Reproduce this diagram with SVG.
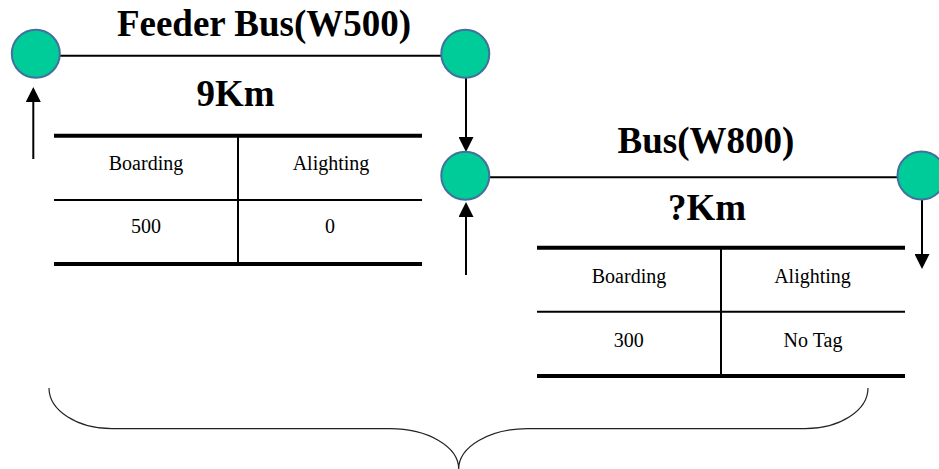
<svg xmlns="http://www.w3.org/2000/svg" width="939" height="469" viewBox="0 0 939 469">
  <style>
    .stop { fill: #00CC99; stroke: #41719C; stroke-width: 2; }
    .route { stroke: #000; stroke-width: 2; fill: none; }
    .arrow { stroke: #000; stroke-width: 2; fill: none; marker-end: url(#head); }
    .title { font-family: "Liberation Serif", "Times New Roman", serif; font-weight: bold; font-size: 37px; fill: #000; text-anchor: middle; }
    .cell { font-family: "Liberation Serif", "Times New Roman", serif; font-size: 20px; fill: #000; text-anchor: middle; }
    .rule-thick { stroke: #000; stroke-width: 4; }
    .rule-thin { stroke: #000; stroke-width: 2; }
    .brace { stroke: #222; stroke-width: 1.2; fill: none; }
  </style>
  <defs>
    <marker id="head" viewBox="0 0 15 15" markerWidth="15" markerHeight="15" markerUnits="userSpaceOnUse" refX="7" refY="7.5" orient="auto">
      <path d="M0,0 L15,7.5 L0,15 Z" fill="#000"/>
    </marker>
  </defs>

  <rect width="939" height="469" fill="#fff"/>

  <!-- route segments and transfer arrows -->
  <g id="connectors">
    <line class="route" x1="60" y1="55.7" x2="441" y2="55.7"/>
    <line class="route" x1="490" y1="177.3" x2="898" y2="177.3"/>
    <line class="arrow" x1="33.3" y1="159" x2="33.3" y2="95"/>
    <line class="arrow" x1="466" y1="78" x2="466" y2="144"/>
    <line class="arrow" x1="466" y1="275" x2="466" y2="210"/>
    <line class="arrow" x1="922" y1="197" x2="922" y2="261"/>
  </g>

  <!-- stops -->
  <g id="stop-feeder-start"><circle class="stop" cx="35.8" cy="53.8" r="24"/></g>
  <g id="stop-feeder-end"><circle class="stop" cx="465.3" cy="53.8" r="24"/></g>
  <g id="stop-bus-start"><circle class="stop" cx="465.3" cy="175.8" r="24"/></g>
  <g id="stop-bus-end"><circle class="stop" cx="921.5" cy="175.5" r="24"/></g>

  <!-- route labels -->
  <g id="label-feeder">
    <text class="title" x="264" y="36">Feeder Bus(W500)</text>
    <text class="title" x="235.5" y="106">9Km</text>
  </g>
  <g id="label-bus">
    <text class="title" x="706" y="153">Bus(W800)</text>
    <text class="title" x="707" y="220">?Km</text>
  </g>

  <!-- feeder bus passenger table -->
  <g id="table-feeder">
    <line class="rule-thick" x1="54" y1="135.7" x2="422" y2="135.7"/>
    <line class="rule-thin" x1="54" y1="200" x2="422" y2="200"/>
    <line class="rule-thick" x1="54" y1="264" x2="422" y2="264"/>
    <line class="rule-thin" x1="238" y1="135.7" x2="238" y2="264"/>
    <text class="cell" x="146" y="170">Boarding</text>
    <text class="cell" x="331" y="170">Alighting</text>
    <text class="cell" x="146" y="233">500</text>
    <text class="cell" x="330" y="233">0</text>
  </g>

  <!-- bus passenger table -->
  <g id="table-bus">
    <line class="rule-thick" x1="537" y1="247.7" x2="905" y2="247.7"/>
    <line class="rule-thin" x1="537" y1="311.7" x2="905" y2="311.7"/>
    <line class="rule-thick" x1="537" y1="376" x2="905" y2="376"/>
    <line class="rule-thin" x1="721" y1="247.7" x2="721" y2="376"/>
    <text class="cell" x="629" y="282.7">Boarding</text>
    <text class="cell" x="812.5" y="282.7">Alighting</text>
    <text class="cell" x="628.7" y="346.7">300</text>
    <text class="cell" x="813" y="346.7">No Tag</text>
  </g>

  <!-- grouping brace -->
  <g id="brace">
    <path class="brace" d="M49,388 A63,40.7 0 0 0 112,428.7 L390,428.7 A68.7,40.3 0 0 1 458.7,469 A68.7,40.3 0 0 1 527.4,428.7 L805,428.7 A63,40.7 0 0 0 868,388"/>
  </g>
</svg>
